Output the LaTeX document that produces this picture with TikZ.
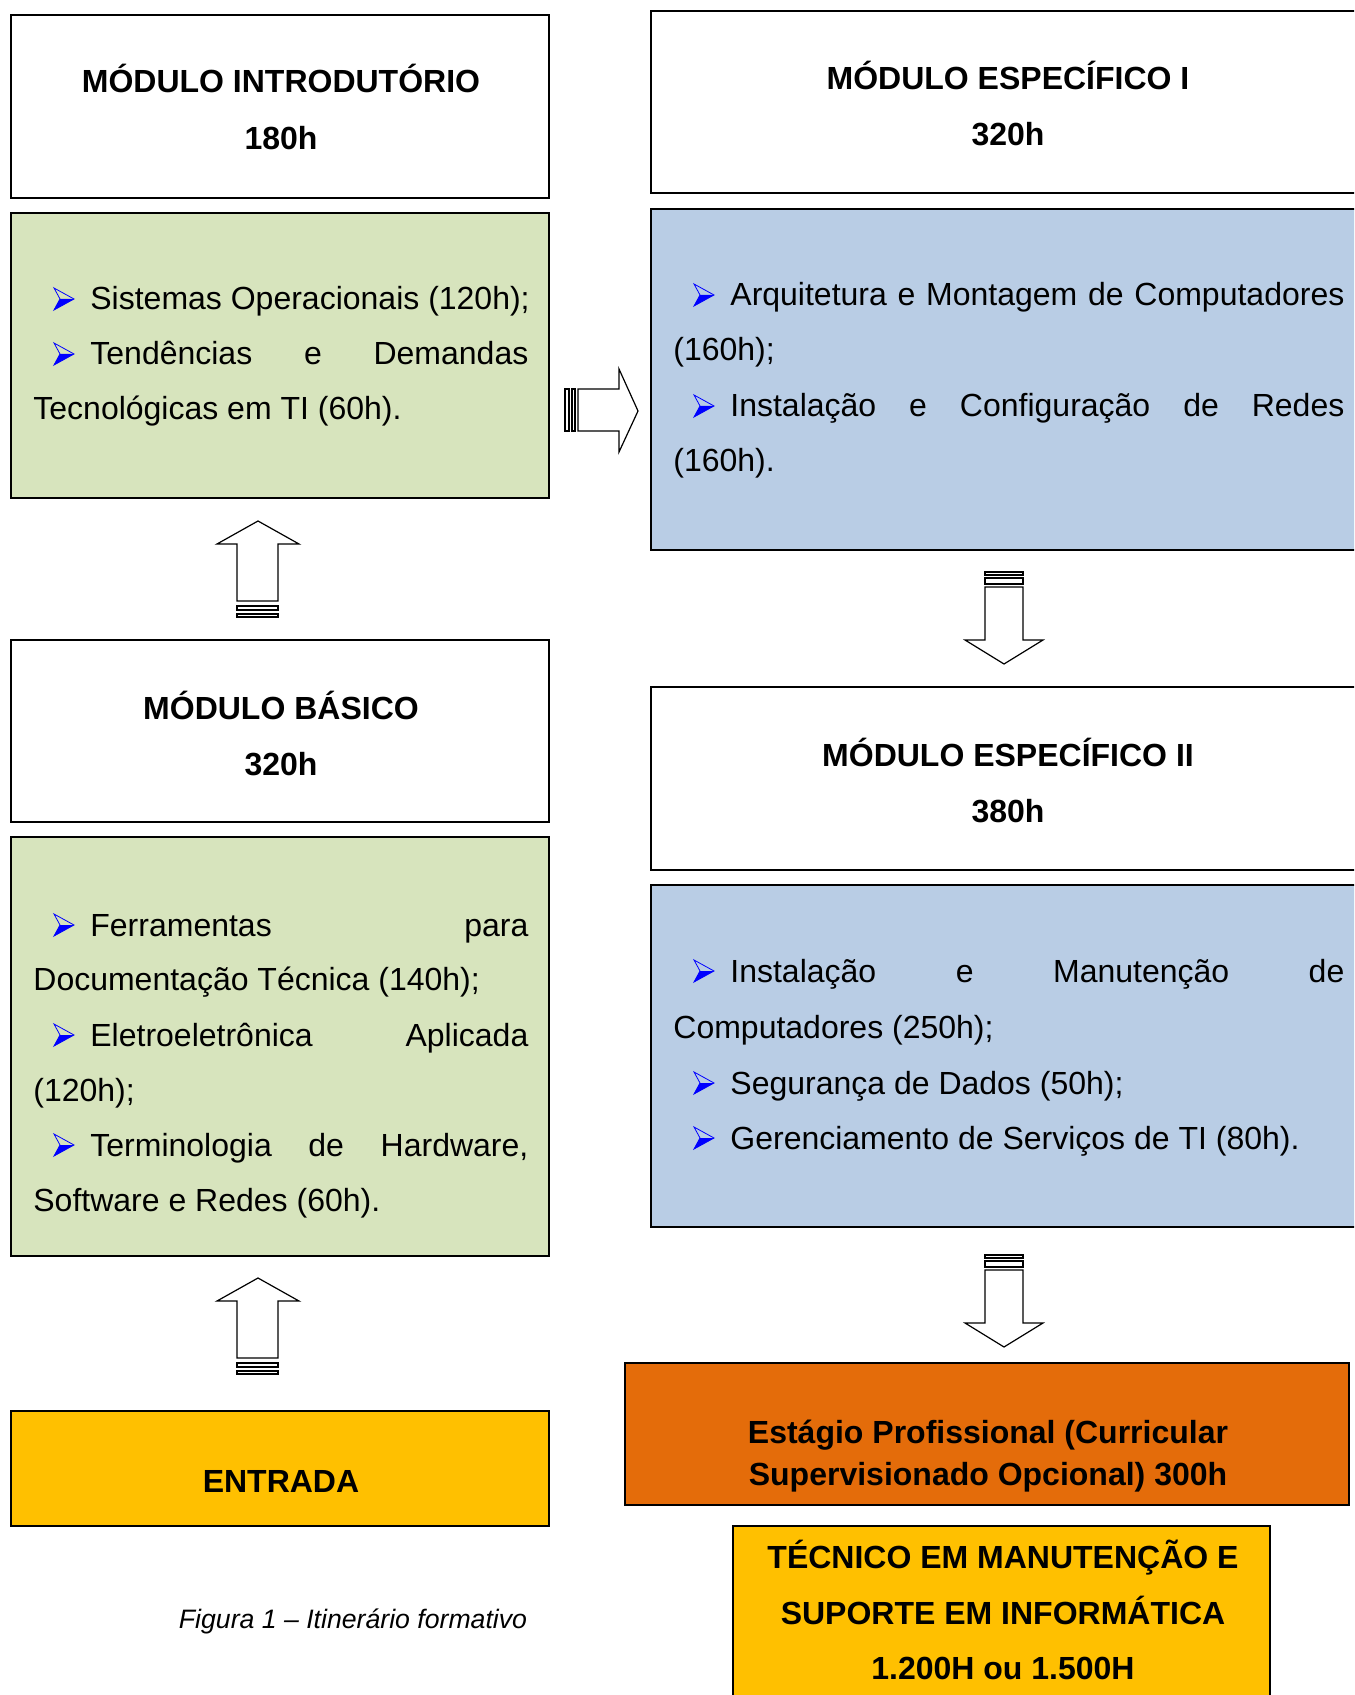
\documentclass[tikz,border=0pt]{standalone}
\usepackage{fontspec}
\setmainfont{Liberation Sans}
\definecolor{grn}{HTML}{D7E4BD}
\definecolor{blu}{HTML}{B9CDE5}
\definecolor{org}{HTML}{E46C0A}
\definecolor{yel}{HTML}{FFC000}
\begin{document}
\begin{tikzpicture}[x=0.5pt,y=-0.5pt,
  box/.style={draw=black,line width=0.75pt},
  txt/.style={anchor=base west,inner sep=0pt,font=\fontsize{16}{20}\selectfont},
  hd/.style={anchor=base,inner sep=0pt,font=\fontsize{16}{20}\selectfont\bfseries},
  captext/.style={anchor=base,inner sep=0pt,font=\fontsize{13.33}{16}\selectfont\itshape},
  blockarrow/.style={draw=black,line width=0.6pt,fill=white,line join=miter},
  bulletpic/.pic={
    \fill[blue] (6,0) -- (20,0) -- (0,11) -- cycle;
    \draw[blue,line width=0.4pt,line join=miter] (0,-11) -- (20,0) -- (0,11) -- (6,0) -- cycle;
  }
]
\clip (0,0) rectangle (1354,1695);
\fill[white] (0,0) rectangle (1354,1695);

% ---------- left column boxes ----------
\draw[box] (11,15) rectangle (549,198);
\draw[box,fill=grn] (11,213) rectangle (549,498);
\draw[box] (11,640) rectangle (549,822);
\draw[box,fill=grn] (11,837) rectangle (549,1256);
\draw[box,fill=yel] (11,1411) rectangle (549,1526);

% ---------- right column boxes ----------
\draw[box] (651,11) rectangle (1370,193);
\draw[box,fill=blu] (651,209) rectangle (1370,550);
\draw[box] (651,687) rectangle (1370,870);
\draw[box,fill=blu] (651,885) rectangle (1370,1227);
\draw[box,fill=org] (625,1363) rectangle (1349,1505);
\draw[box,fill=yel] (733,1526) rectangle (1270,1720);

\begin{scope}[shift={(1,2)}]
% ---------- headings ----------
\node[hd] (h1a) at (280,91) {MÓDULO INTRODUTÓRIO};
\node[hd] (h1b) at (280,148) {180h};
\node[hd] (h2a) at (280,717) {MÓDULO BÁSICO};
\node[hd] (h2b) at (280,773) {320h};
\node[hd] (h3a) at (1007,88) {MÓDULO ESPECÍFICO I};
\node[hd] (h3b) at (1007,144) {320h};
\node[hd] (h4a) at (1007,764) {MÓDULO ESPECÍFICO II};
\node[hd] (h4b) at (1007,820) {380h};
\node[hd] (ent) at (280,1490) {ENTRADA};
\node[hd] (esta) at (987,1441) {Estágio Profissional (Curricular};
\node[hd] (estb) at (987,1483) {Supervisionado Opcional) 300h};
\node[hd] (teca) at (1002,1566) {TÉCNICO EM MANUTENÇÃO E};
\node[hd] (tecb) at (1002,1622) {SUPORTE EM INFORMÁTICA};
\node[hd] (tecc) at (1002,1677) {1.200H ou 1.500H};
\node[captext] (capt) at (352,1626) {Figura 1 – Itinerário formativo};

% ---------- green box 1 ----------
\pic at (53,297) {bulletpic};
\node[txt] (g1a) at (89,308) {Sistemas Operacionais (120h);};
\pic at (53,352) {bulletpic};
\node[txt] (g1b) at (89,363) {\hbox to 219pt{Tendências\hfill e\hfill Demandas}};
\node[txt] (g1c) at (32,418) {Tecnológicas em TI (60h).};

% ---------- green box 2 ----------
\pic at (53,923) {bulletpic};
\node[txt] (g2a) at (89,934) {\hbox to 219pt{Ferramentas\hfill para}};
\node[txt] (g2b) at (32,988) {Documentação Técnica (140h);};
\pic at (53,1033) {bulletpic};
\node[txt] (g2c) at (89,1044) {\hbox to 219pt{Eletroeletrônica\hfill Aplicada}};
\node[txt] (g2d) at (32,1099) {(120h);};
\pic at (53,1143) {bulletpic};
\node[txt] (g2e) at (89,1154) {\hbox to 219pt{Terminologia\hfill de\hfill Hardware,}};
\node[txt] (g2f) at (32,1209) {Software e Redes (60h).};

% ---------- blue box 1 ----------
\pic at (693,293) {bulletpic};
\node[txt] (b1a) at (729,304) {\hbox to 307pt{Arquitetura\hfill e\hfill Montagem\hfill de\hfill Computadores}};
\node[txt] (b1b) at (672,359) {(160h);};
\pic at (693,404) {bulletpic};
\node[txt] (b1c) at (729,415) {\hbox to 307pt{Instalação\hfill e\hfill Configuração\hfill de\hfill Redes}};
\node[txt] (b1d) at (672,470) {(160h).};

% ---------- blue box 2 ----------
\pic at (693,969) {bulletpic};
\node[txt] (b2a) at (729,980) {\hbox to 307pt{Instalação\hfill e\hfill Manutenção\hfill de}};
\node[txt] (b2b) at (672,1036) {Computadores (250h);};
\pic at (693,1081) {bulletpic};
\node[txt] (b2c) at (729,1092) {Segurança de Dados (50h);};
\pic at (693,1136) {bulletpic};
\node[txt] (b2d) at (729,1147) {Gerenciamento de Serviços de TI (80h).};
\end{scope}

% ---------- block arrows ----------
% up arrow 1
\draw[blockarrow] (237,601) -- (237,544) -- (217,544) -- (258,521) -- (299,544) -- (278,544) -- (278,601) -- cycle;
\draw[blockarrow] (237,606) rectangle (278,610);
\draw[blockarrow] (237,614) rectangle (278,617);
% up arrow 2
\draw[blockarrow] (237,1358) -- (237,1301) -- (217,1301) -- (258,1278) -- (299,1301) -- (278,1301) -- (278,1358) -- cycle;
\draw[blockarrow] (237,1363) rectangle (278,1367);
\draw[blockarrow] (237,1371) rectangle (278,1374);
% right arrow
\draw[blockarrow,line width=0.9pt] (565,389) rectangle (569,431);
\draw[blockarrow] (572,389) rectangle (575,431);
\draw[blockarrow] (578,389) -- (619,389) -- (619,369) -- (638,411) -- (619,452) -- (619,431) -- (578,431) -- cycle;
% down arrow 1
\draw[blockarrow] (985,572) rectangle (1023,575);
\draw[blockarrow] (985,578) rectangle (1023,584);
\draw[blockarrow] (985,587) -- (985,640) -- (965,640) -- (1004,664) -- (1043,640) -- (1023,640) -- (1023,587) -- cycle;
% down arrow 2
\draw[blockarrow] (985,1255) rectangle (1023,1258);
\draw[blockarrow] (985,1261) rectangle (1023,1267);
\draw[blockarrow] (985,1270) -- (985,1323) -- (965,1323) -- (1004,1347) -- (1043,1323) -- (1023,1323) -- (1023,1270) -- cycle;
\end{tikzpicture}
\end{document}
